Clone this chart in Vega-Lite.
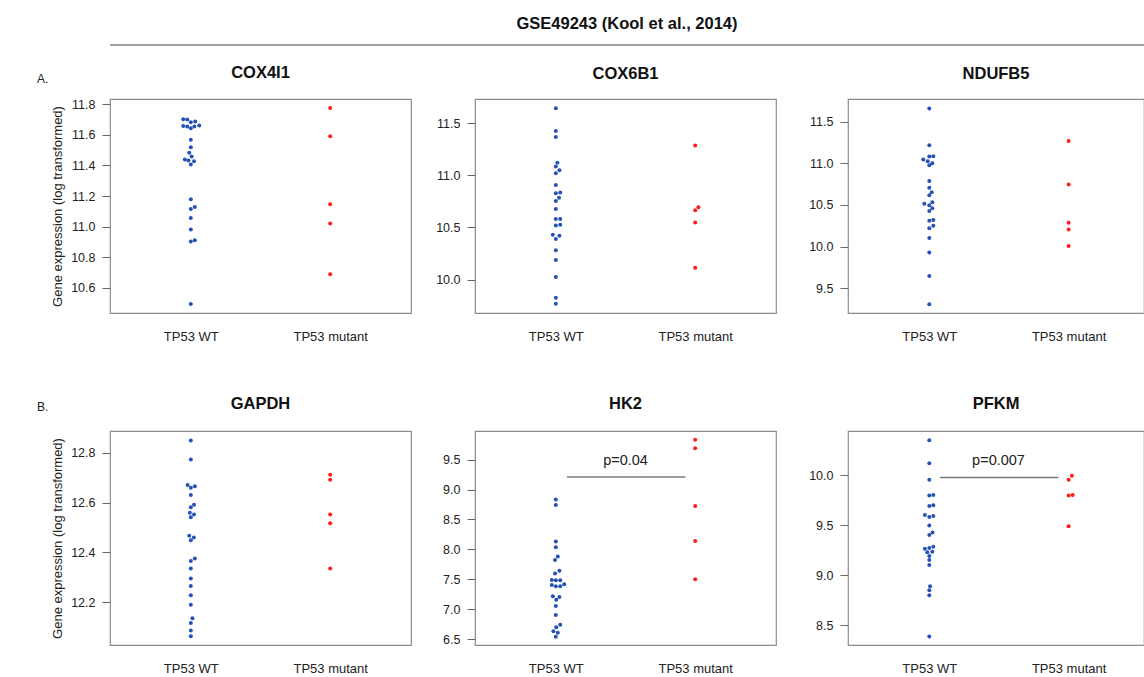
{
  "$schema": "https://vega.github.io/schema/vega-lite/v6.json",
  "padding": {"left": 37, "top": 15, "right": 0, "bottom": 0},
  "background": "white",
  "data": {"values": [
    {"gene":"COX4I1","group":"TP53 WT","value":11.703,"off":-1.9},
    {"gene":"COX4I1","group":"TP53 WT","value":11.701,"off":-0.9},
    {"gene":"COX4I1","group":"TP53 WT","value":11.683,"off":0},
    {"gene":"COX4I1","group":"TP53 WT","value":11.688,"off":1.1},
    {"gene":"COX4I1","group":"TP53 WT","value":11.659,"off":-1.9},
    {"gene":"COX4I1","group":"TP53 WT","value":11.655,"off":-0.9},
    {"gene":"COX4I1","group":"TP53 WT","value":11.644,"off":0},
    {"gene":"COX4I1","group":"TP53 WT","value":11.655,"off":0.9},
    {"gene":"COX4I1","group":"TP53 WT","value":11.661,"off":2.1},
    {"gene":"COX4I1","group":"TP53 WT","value":11.569,"off":0},
    {"gene":"COX4I1","group":"TP53 WT","value":11.520,"off":0},
    {"gene":"COX4I1","group":"TP53 WT","value":11.483,"off":-0.4},
    {"gene":"COX4I1","group":"TP53 WT","value":11.459,"off":0.2},
    {"gene":"COX4I1","group":"TP53 WT","value":11.439,"off":-1.5},
    {"gene":"COX4I1","group":"TP53 WT","value":11.432,"off":-0.6},
    {"gene":"COX4I1","group":"TP53 WT","value":11.428,"off":0.8},
    {"gene":"COX4I1","group":"TP53 WT","value":11.406,"off":0},
    {"gene":"COX4I1","group":"TP53 WT","value":11.179,"off":0},
    {"gene":"COX4I1","group":"TP53 WT","value":11.128,"off":1},
    {"gene":"COX4I1","group":"TP53 WT","value":11.115,"off":0},
    {"gene":"COX4I1","group":"TP53 WT","value":11.056,"off":0},
    {"gene":"COX4I1","group":"TP53 WT","value":10.981,"off":0},
    {"gene":"COX4I1","group":"TP53 WT","value":10.911,"off":1},
    {"gene":"COX4I1","group":"TP53 WT","value":10.902,"off":0},
    {"gene":"COX4I1","group":"TP53 WT","value":10.494,"off":0},
    {"gene":"COX4I1","group":"TP53 mutant","value":11.776,"off":0},
    {"gene":"COX4I1","group":"TP53 mutant","value":11.591,"off":0},
    {"gene":"COX4I1","group":"TP53 mutant","value":11.146,"off":0},
    {"gene":"COX4I1","group":"TP53 mutant","value":11.021,"off":0},
    {"gene":"COX4I1","group":"TP53 mutant","value":10.688,"off":0},

    {"gene":"COX6B1","group":"TP53 WT","value":11.642,"off":0},
    {"gene":"COX6B1","group":"TP53 WT","value":11.423,"off":0},
    {"gene":"COX6B1","group":"TP53 WT","value":11.365,"off":0},
    {"gene":"COX6B1","group":"TP53 WT","value":11.119,"off":0.4},
    {"gene":"COX6B1","group":"TP53 WT","value":11.084,"off":0},
    {"gene":"COX6B1","group":"TP53 WT","value":11.048,"off":0.9},
    {"gene":"COX6B1","group":"TP53 WT","value":11.019,"off":0},
    {"gene":"COX6B1","group":"TP53 WT","value":10.906,"off":0},
    {"gene":"COX6B1","group":"TP53 WT","value":10.826,"off":0},
    {"gene":"COX6B1","group":"TP53 WT","value":10.835,"off":1.1},
    {"gene":"COX6B1","group":"TP53 WT","value":10.784,"off":0.8},
    {"gene":"COX6B1","group":"TP53 WT","value":10.752,"off":0},
    {"gene":"COX6B1","group":"TP53 WT","value":10.677,"off":0},
    {"gene":"COX6B1","group":"TP53 WT","value":10.581,"off":0},
    {"gene":"COX6B1","group":"TP53 WT","value":10.581,"off":1.1},
    {"gene":"COX6B1","group":"TP53 WT","value":10.519,"off":0},
    {"gene":"COX6B1","group":"TP53 WT","value":10.526,"off":1.1},
    {"gene":"COX6B1","group":"TP53 WT","value":10.429,"off":-0.75},
    {"gene":"COX6B1","group":"TP53 WT","value":10.419,"off":0.9},
    {"gene":"COX6B1","group":"TP53 WT","value":10.390,"off":0},
    {"gene":"COX6B1","group":"TP53 WT","value":10.281,"off":0},
    {"gene":"COX6B1","group":"TP53 WT","value":10.187,"off":0},
    {"gene":"COX6B1","group":"TP53 WT","value":10.026,"off":0},
    {"gene":"COX6B1","group":"TP53 WT","value":9.826,"off":0},
    {"gene":"COX6B1","group":"TP53 WT","value":9.768,"off":0},
    {"gene":"COX6B1","group":"TP53 mutant","value":11.284,"off":0},
    {"gene":"COX6B1","group":"TP53 mutant","value":10.665,"off":0},
    {"gene":"COX6B1","group":"TP53 mutant","value":10.694,"off":0.8},
    {"gene":"COX6B1","group":"TP53 mutant","value":10.548,"off":0},
    {"gene":"COX6B1","group":"TP53 mutant","value":10.113,"off":0},

    {"gene":"NDUFB5","group":"TP53 WT","value":11.662,"off":0},
    {"gene":"NDUFB5","group":"TP53 WT","value":11.217,"off":0},
    {"gene":"NDUFB5","group":"TP53 WT","value":11.083,"off":0},
    {"gene":"NDUFB5","group":"TP53 WT","value":11.087,"off":1},
    {"gene":"NDUFB5","group":"TP53 WT","value":11.047,"off":-1.5},
    {"gene":"NDUFB5","group":"TP53 WT","value":11.026,"off":-0.4},
    {"gene":"NDUFB5","group":"TP53 WT","value":11.002,"off":0.75},
    {"gene":"NDUFB5","group":"TP53 WT","value":10.978,"off":0},
    {"gene":"NDUFB5","group":"TP53 WT","value":10.787,"off":0},
    {"gene":"NDUFB5","group":"TP53 WT","value":10.706,"off":0},
    {"gene":"NDUFB5","group":"TP53 WT","value":10.654,"off":0.6},
    {"gene":"NDUFB5","group":"TP53 WT","value":10.617,"off":0},
    {"gene":"NDUFB5","group":"TP53 WT","value":10.516,"off":-1.25},
    {"gene":"NDUFB5","group":"TP53 WT","value":10.532,"off":0.75},
    {"gene":"NDUFB5","group":"TP53 WT","value":10.496,"off":0},
    {"gene":"NDUFB5","group":"TP53 WT","value":10.460,"off":0.75},
    {"gene":"NDUFB5","group":"TP53 WT","value":10.427,"off":0},
    {"gene":"NDUFB5","group":"TP53 WT","value":10.318,"off":1},
    {"gene":"NDUFB5","group":"TP53 WT","value":10.310,"off":0},
    {"gene":"NDUFB5","group":"TP53 WT","value":10.249,"off":1},
    {"gene":"NDUFB5","group":"TP53 WT","value":10.221,"off":0},
    {"gene":"NDUFB5","group":"TP53 WT","value":10.103,"off":0},
    {"gene":"NDUFB5","group":"TP53 WT","value":9.929,"off":0},
    {"gene":"NDUFB5","group":"TP53 WT","value":9.646,"off":0},
    {"gene":"NDUFB5","group":"TP53 WT","value":9.306,"off":0},
    {"gene":"NDUFB5","group":"TP53 mutant","value":11.269,"off":0},
    {"gene":"NDUFB5","group":"TP53 mutant","value":10.747,"off":0},
    {"gene":"NDUFB5","group":"TP53 mutant","value":10.285,"off":0},
    {"gene":"NDUFB5","group":"TP53 mutant","value":10.204,"off":0},
    {"gene":"NDUFB5","group":"TP53 mutant","value":10.006,"off":0},

    {"gene":"GAPDH","group":"TP53 WT","value":12.850,"off":0},
    {"gene":"GAPDH","group":"TP53 WT","value":12.773,"off":0},
    {"gene":"GAPDH","group":"TP53 WT","value":12.671,"off":-0.8},
    {"gene":"GAPDH","group":"TP53 WT","value":12.666,"off":1},
    {"gene":"GAPDH","group":"TP53 WT","value":12.660,"off":0},
    {"gene":"GAPDH","group":"TP53 WT","value":12.631,"off":0},
    {"gene":"GAPDH","group":"TP53 WT","value":12.591,"off":0.8},
    {"gene":"GAPDH","group":"TP53 WT","value":12.581,"off":0},
    {"gene":"GAPDH","group":"TP53 WT","value":12.559,"off":-0.25},
    {"gene":"GAPDH","group":"TP53 WT","value":12.552,"off":0.8},
    {"gene":"GAPDH","group":"TP53 WT","value":12.541,"off":0},
    {"gene":"GAPDH","group":"TP53 WT","value":12.467,"off":-0.4},
    {"gene":"GAPDH","group":"TP53 WT","value":12.460,"off":0.75},
    {"gene":"GAPDH","group":"TP53 WT","value":12.448,"off":0},
    {"gene":"GAPDH","group":"TP53 WT","value":12.375,"off":1},
    {"gene":"GAPDH","group":"TP53 WT","value":12.365,"off":0},
    {"gene":"GAPDH","group":"TP53 WT","value":12.335,"off":0},
    {"gene":"GAPDH","group":"TP53 WT","value":12.295,"off":0},
    {"gene":"GAPDH","group":"TP53 WT","value":12.264,"off":0},
    {"gene":"GAPDH","group":"TP53 WT","value":12.227,"off":0},
    {"gene":"GAPDH","group":"TP53 WT","value":12.189,"off":0},
    {"gene":"GAPDH","group":"TP53 WT","value":12.135,"off":0.4},
    {"gene":"GAPDH","group":"TP53 WT","value":12.116,"off":0},
    {"gene":"GAPDH","group":"TP53 WT","value":12.085,"off":0},
    {"gene":"GAPDH","group":"TP53 WT","value":12.062,"off":0},
    {"gene":"GAPDH","group":"TP53 mutant","value":12.712,"off":0},
    {"gene":"GAPDH","group":"TP53 mutant","value":12.692,"off":0},
    {"gene":"GAPDH","group":"TP53 mutant","value":12.552,"off":0},
    {"gene":"GAPDH","group":"TP53 mutant","value":12.517,"off":0},
    {"gene":"GAPDH","group":"TP53 mutant","value":12.335,"off":0},

    {"gene":"HK2","group":"TP53 WT","value":8.833,"off":0},
    {"gene":"HK2","group":"TP53 WT","value":8.743,"off":0},
    {"gene":"HK2","group":"TP53 WT","value":8.133,"off":0},
    {"gene":"HK2","group":"TP53 WT","value":8.037,"off":0},
    {"gene":"HK2","group":"TP53 WT","value":7.879,"off":0.5},
    {"gene":"HK2","group":"TP53 WT","value":7.822,"off":-0.2},
    {"gene":"HK2","group":"TP53 WT","value":7.641,"off":0.9},
    {"gene":"HK2","group":"TP53 WT","value":7.596,"off":-0.2},
    {"gene":"HK2","group":"TP53 WT","value":7.489,"off":-1},
    {"gene":"HK2","group":"TP53 WT","value":7.483,"off":0},
    {"gene":"HK2","group":"TP53 WT","value":7.483,"off":1.1},
    {"gene":"HK2","group":"TP53 WT","value":7.404,"off":-1},
    {"gene":"HK2","group":"TP53 WT","value":7.381,"off":0},
    {"gene":"HK2","group":"TP53 WT","value":7.381,"off":1.1},
    {"gene":"HK2","group":"TP53 WT","value":7.415,"off":2.1},
    {"gene":"HK2","group":"TP53 WT","value":7.217,"off":-0.75},
    {"gene":"HK2","group":"TP53 WT","value":7.201,"off":0.9},
    {"gene":"HK2","group":"TP53 WT","value":7.155,"off":0.1},
    {"gene":"HK2","group":"TP53 WT","value":7.054,"off":0},
    {"gene":"HK2","group":"TP53 WT","value":6.901,"off":0},
    {"gene":"HK2","group":"TP53 WT","value":6.737,"off":1.1},
    {"gene":"HK2","group":"TP53 WT","value":6.698,"off":0.1},
    {"gene":"HK2","group":"TP53 WT","value":6.630,"off":-0.6},
    {"gene":"HK2","group":"TP53 WT","value":6.607,"off":0.5},
    {"gene":"HK2","group":"TP53 WT","value":6.540,"off":0},
    {"gene":"HK2","group":"TP53 mutant","value":9.833,"off":0},
    {"gene":"HK2","group":"TP53 mutant","value":9.692,"off":0},
    {"gene":"HK2","group":"TP53 mutant","value":8.726,"off":0},
    {"gene":"HK2","group":"TP53 mutant","value":8.138,"off":0},
    {"gene":"HK2","group":"TP53 mutant","value":7.500,"off":0},

    {"gene":"PFKM","group":"TP53 WT","value":10.347,"off":0},
    {"gene":"PFKM","group":"TP53 WT","value":10.118,"off":0},
    {"gene":"PFKM","group":"TP53 WT","value":9.953,"off":0},
    {"gene":"PFKM","group":"TP53 WT","value":9.794,"off":0},
    {"gene":"PFKM","group":"TP53 WT","value":9.801,"off":1},
    {"gene":"PFKM","group":"TP53 WT","value":9.690,"off":0},
    {"gene":"PFKM","group":"TP53 WT","value":9.697,"off":1},
    {"gene":"PFKM","group":"TP53 WT","value":9.599,"off":-1.1},
    {"gene":"PFKM","group":"TP53 WT","value":9.579,"off":0},
    {"gene":"PFKM","group":"TP53 WT","value":9.589,"off":1},
    {"gene":"PFKM","group":"TP53 WT","value":9.494,"off":0},
    {"gene":"PFKM","group":"TP53 WT","value":9.400,"off":0},
    {"gene":"PFKM","group":"TP53 WT","value":9.424,"off":0.8},
    {"gene":"PFKM","group":"TP53 WT","value":9.262,"off":-1.1},
    {"gene":"PFKM","group":"TP53 WT","value":9.282,"off":1},
    {"gene":"PFKM","group":"TP53 WT","value":9.269,"off":0},
    {"gene":"PFKM","group":"TP53 WT","value":9.228,"off":-0.5},
    {"gene":"PFKM","group":"TP53 WT","value":9.232,"off":0.75},
    {"gene":"PFKM","group":"TP53 WT","value":9.191,"off":0},
    {"gene":"PFKM","group":"TP53 WT","value":9.151,"off":0},
    {"gene":"PFKM","group":"TP53 WT","value":9.100,"off":0},
    {"gene":"PFKM","group":"TP53 WT","value":8.888,"off":0.2},
    {"gene":"PFKM","group":"TP53 WT","value":8.847,"off":0},
    {"gene":"PFKM","group":"TP53 WT","value":8.797,"off":0},
    {"gene":"PFKM","group":"TP53 WT","value":8.386,"off":0},
    {"gene":"PFKM","group":"TP53 mutant","value":9.953,"off":0},
    {"gene":"PFKM","group":"TP53 mutant","value":9.993,"off":0.8},
    {"gene":"PFKM","group":"TP53 mutant","value":9.794,"off":0},
    {"gene":"PFKM","group":"TP53 mutant","value":9.801,"off":1},
    {"gene":"PFKM","group":"TP53 mutant","value":9.488,"off":0}
  ]},
  "config": {
    "font": "Liberation Sans",
    "view": {"stroke": "#8c8c8c", "strokeWidth": 1.2},
    "axis": {"domain": false, "grid": false, "labelOverlap": false, "labelFont": "Liberation Sans", "labelColor": "#222", "titleFont": "Liberation Sans", "titleColor": "#222", "titleFontWeight": "normal"},
    "axisY": {"tickSize": 8, "tickColor": "#666", "tickWidth": 1, "labelPadding": 7, "labelFontSize": 12.5, "titleFontSize": 13, "titlePadding": 6},
    "axisX": {"ticks": false, "tickSize": 0, "labelPadding": 17, "labelFontSize": 13, "labelAngle": 0},
    "title": {"font": "Liberation Sans", "fontSize": 16.5, "fontWeight": "bold", "color": "#111", "offset": 17, "anchor": "middle"}
  },
  "bounds": "flush",
  "spacing": 54,
  "vconcat": [
    {
      "width": 1034, "height": 1,
      "data": {"values": [{}]},
      "view": {"stroke": null},
      "title": {"text": "GSE49243 (Kool et al., 2014)", "offset": 12, "anchor": "middle"},
      "mark": {"type": "rule", "color": "#444", "strokeWidth": 1.2},
      "encoding": {"y": {"datum": 0, "type": "quantitative", "scale": {"domain": [0, 1]}, "axis": null}}
    },
    {
      "bounds": "flush",
      "spacing": 332,
      "vconcat": [
        {
          "title": {"text": "A.", "anchor": "start", "fontSize": 12, "fontWeight": "normal", "color": "#222", "offset": 0, "dx": -14, "dy": 22},
          "bounds": "flush",
          "spacing": 64,
          "hconcat": [
            {
              "width": 301, "height": 214, "title": "COX4I1",
              "transform": [{"filter": "datum.gene === 'COX4I1'"}],
              "mark": {"type": "circle", "size": 16, "opacity": 1},
              "encoding": {
                "x": {"field": "group", "type": "nominal", "sort": ["TP53 WT", "TP53 mutant"], "scale": {"type": "point", "domain": ["TP53 WT", "TP53 mutant"], "padding": 0.58, "align": 0.5}, "axis": {"title": null}},
                "xOffset": {"field": "off", "type": "quantitative", "scale": {"domain": [-1, 1], "range": [-4, 4]}},
                "y": {"field": "value", "type": "quantitative", "scale": {"domain": [10.435, 11.835], "nice": false, "zero": false}, "axis": {"values": [10.6, 10.8, 11.0, 11.2, 11.4, 11.6, 11.8], "tickCount": 10, "format": ".1f", "title": "Gene expression (log transformed)"}},
                "color": {"field": "group", "type": "nominal", "scale": {"domain": ["TP53 WT", "TP53 mutant"], "range": ["#2553b3", "#fe1c1c"]}, "legend": null}
              }
            },
            {
              "bounds": "flush",
              "spacing": 72,
              "hconcat": [
                {
                  "width": 301, "height": 214, "title": "COX6B1",
                  "transform": [{"filter": "datum.gene === 'COX6B1'"}],
                  "mark": {"type": "circle", "size": 16, "opacity": 1},
                  "encoding": {
                    "x": {"field": "group", "type": "nominal", "sort": ["TP53 WT", "TP53 mutant"], "scale": {"type": "point", "domain": ["TP53 WT", "TP53 mutant"], "padding": 0.58, "align": 0.5}, "axis": {"title": null}},
                    "xOffset": {"field": "off", "type": "quantitative", "scale": {"domain": [-1, 1], "range": [-4, 4]}},
                    "y": {"field": "value", "type": "quantitative", "scale": {"domain": [9.68, 11.73], "nice": false, "zero": false}, "axis": {"values": [10.0, 10.5, 11.0, 11.5], "tickCount": 10, "format": ".1f", "title": null}},
                    "color": {"field": "group", "type": "nominal", "scale": {"domain": ["TP53 WT", "TP53 mutant"], "range": ["#2553b3", "#fe1c1c"]}, "legend": null}
                  }
                },
                {
                  "width": 296, "height": 214, "title": "NDUFB5",
                  "transform": [{"filter": "datum.gene === 'NDUFB5'"}],
                  "mark": {"type": "circle", "size": 16, "opacity": 1},
                  "encoding": {
                    "x": {"field": "group", "type": "nominal", "sort": ["TP53 WT", "TP53 mutant"], "scale": {"type": "point", "domain": ["TP53 WT", "TP53 mutant"], "padding": 0.5621, "align": 0.519}, "axis": {"title": null}},
                    "xOffset": {"field": "off", "type": "quantitative", "scale": {"domain": [-1, 1], "range": [-4, 4]}},
                    "y": {"field": "value", "type": "quantitative", "scale": {"domain": [9.20, 11.775], "nice": false, "zero": false}, "axis": {"values": [9.5, 10.0, 10.5, 11.0, 11.5], "tickCount": 10, "format": ".1f", "title": null}},
                    "color": {"field": "group", "type": "nominal", "scale": {"domain": ["TP53 WT", "TP53 mutant"], "range": ["#2553b3", "#fe1c1c"]}, "legend": null}
                  }
                }
              ]
            }
          ]
        },
        {
          "title": {"text": "B.", "anchor": "start", "fontSize": 12, "fontWeight": "normal", "color": "#222", "offset": 0, "dx": -14, "dy": 19},
          "bounds": "flush",
          "spacing": 64,
          "hconcat": [
            {
              "width": 301, "height": 214, "title": {"text": "GAPDH", "offset": 19},
              "transform": [{"filter": "datum.gene === 'GAPDH'"}],
              "mark": {"type": "circle", "size": 16, "opacity": 1},
              "encoding": {
                "x": {"field": "group", "type": "nominal", "sort": ["TP53 WT", "TP53 mutant"], "scale": {"type": "point", "domain": ["TP53 WT", "TP53 mutant"], "padding": 0.58, "align": 0.5}, "axis": {"title": null}},
                "xOffset": {"field": "off", "type": "quantitative", "scale": {"domain": [-1, 1], "range": [-4, 4]}},
                "y": {"field": "value", "type": "quantitative", "scale": {"domain": [12.027, 12.888], "nice": false, "zero": false}, "axis": {"values": [12.2, 12.4, 12.6, 12.8], "tickCount": 10, "format": ".1f", "title": "Gene expression (log transformed)"}},
                "color": {"field": "group", "type": "nominal", "scale": {"domain": ["TP53 WT", "TP53 mutant"], "range": ["#2553b3", "#fe1c1c"]}, "legend": null}
              }
            },
            {
              "bounds": "flush",
              "spacing": 72,
              "hconcat": [
                {
                  "width": 301, "height": 214, "title": {"text": "HK2", "offset": 19},
                  "resolve": {"scale": {"x": "independent"}, "axis": {"x": "independent"}},
                  "layer": [
                    {
                      "transform": [{"filter": "datum.gene === 'HK2'"}],
                      "mark": {"type": "circle", "size": 16, "opacity": 1},
                      "encoding": {
                        "x": {"field": "group", "type": "nominal", "sort": ["TP53 WT", "TP53 mutant"], "scale": {"type": "point", "domain": ["TP53 WT", "TP53 mutant"], "padding": 0.58, "align": 0.5}, "axis": {"title": null}},
                        "xOffset": {"field": "off", "type": "quantitative", "scale": {"domain": [-1, 1], "range": [-4, 4]}},
                        "y": {"field": "value", "type": "quantitative", "scale": {"domain": [6.40, 9.98], "nice": false, "zero": false}, "axis": {"values": [6.5, 7.0, 7.5, 8.0, 8.5, 9.0, 9.5], "tickCount": 10, "format": ".1f", "title": null}},
                        "color": {"field": "group", "type": "nominal", "scale": {"domain": ["TP53 WT", "TP53 mutant"], "range": ["#2553b3", "#fe1c1c"]}, "legend": null}
                      }
                    },
                    {
                      "data": {"values": [{}]},
                      "mark": {"type": "rule", "color": "#7a7a7a", "strokeWidth": 1.5},
                      "encoding": {"x": {"datum": 1.08, "type": "quantitative", "scale": {"domain": [0.42, 2.58]}, "axis": null}, "x2": {"datum": 1.93}, "y": {"datum": 9.212, "type": "quantitative", "axis": {"values": [6.5, 7.0, 7.5, 8.0, 8.5, 9.0, 9.5], "tickCount": 10, "format": ".1f", "title": null}}}
                    },
                    {
                      "data": {"values": [{}]},
                      "mark": {"type": "text", "fontSize": 14.5, "color": "#222", "baseline": "middle", "font": "Liberation Sans"},
                      "encoding": {"x": {"datum": 1.5, "type": "quantitative", "scale": {"domain": [0.42, 2.58]}, "axis": null}, "y": {"datum": 9.48, "type": "quantitative", "axis": {"values": [6.5, 7.0, 7.5, 8.0, 8.5, 9.0, 9.5], "tickCount": 10, "format": ".1f", "title": null}}, "text": {"value": "p=0.04"}}
                    }
                  ]
                },
                {
                  "width": 296, "height": 214, "title": {"text": "PFKM", "offset": 19},
                  "resolve": {"scale": {"x": "independent"}, "axis": {"x": "independent"}},
                  "layer": [
                    {
                      "transform": [{"filter": "datum.gene === 'PFKM'"}],
                      "mark": {"type": "circle", "size": 16, "opacity": 1},
                      "encoding": {
                        "x": {"field": "group", "type": "nominal", "sort": ["TP53 WT", "TP53 mutant"], "scale": {"type": "point", "domain": ["TP53 WT", "TP53 mutant"], "padding": 0.5621, "align": 0.519}, "axis": {"title": null}},
                        "xOffset": {"field": "off", "type": "quantitative", "scale": {"domain": [-1, 1], "range": [-4, 4]}},
                        "y": {"field": "value", "type": "quantitative", "scale": {"domain": [8.30, 10.44], "nice": false, "zero": false}, "axis": {"values": [8.5, 9.0, 9.5, 10.0], "tickCount": 10, "format": ".1f", "title": null}},
                        "color": {"field": "group", "type": "nominal", "scale": {"domain": ["TP53 WT", "TP53 mutant"], "range": ["#2553b3", "#fe1c1c"]}, "legend": null}
                      }
                    },
                    {
                      "data": {"values": [{}]},
                      "mark": {"type": "rule", "color": "#7a7a7a", "strokeWidth": 1.5},
                      "encoding": {"x": {"datum": 1.08, "type": "quantitative", "scale": {"domain": [0.42, 2.544]}, "axis": null}, "x2": {"datum": 1.93}, "y": {"datum": 9.976, "type": "quantitative", "axis": {"values": [8.5, 9.0, 9.5, 10.0], "tickCount": 10, "format": ".1f", "title": null}}}
                    },
                    {
                      "data": {"values": [{}]},
                      "mark": {"type": "text", "fontSize": 14.5, "color": "#222", "baseline": "middle", "font": "Liberation Sans"},
                      "encoding": {"x": {"datum": 1.5, "type": "quantitative", "scale": {"domain": [0.42, 2.544]}, "axis": null}, "y": {"datum": 10.14, "type": "quantitative", "axis": {"values": [8.5, 9.0, 9.5, 10.0], "tickCount": 10, "format": ".1f", "title": null}}, "text": {"value": "p=0.007"}}
                    }
                  ]
                }
              ]
            }
          ]
        }
      ]
    }
  ]
}
